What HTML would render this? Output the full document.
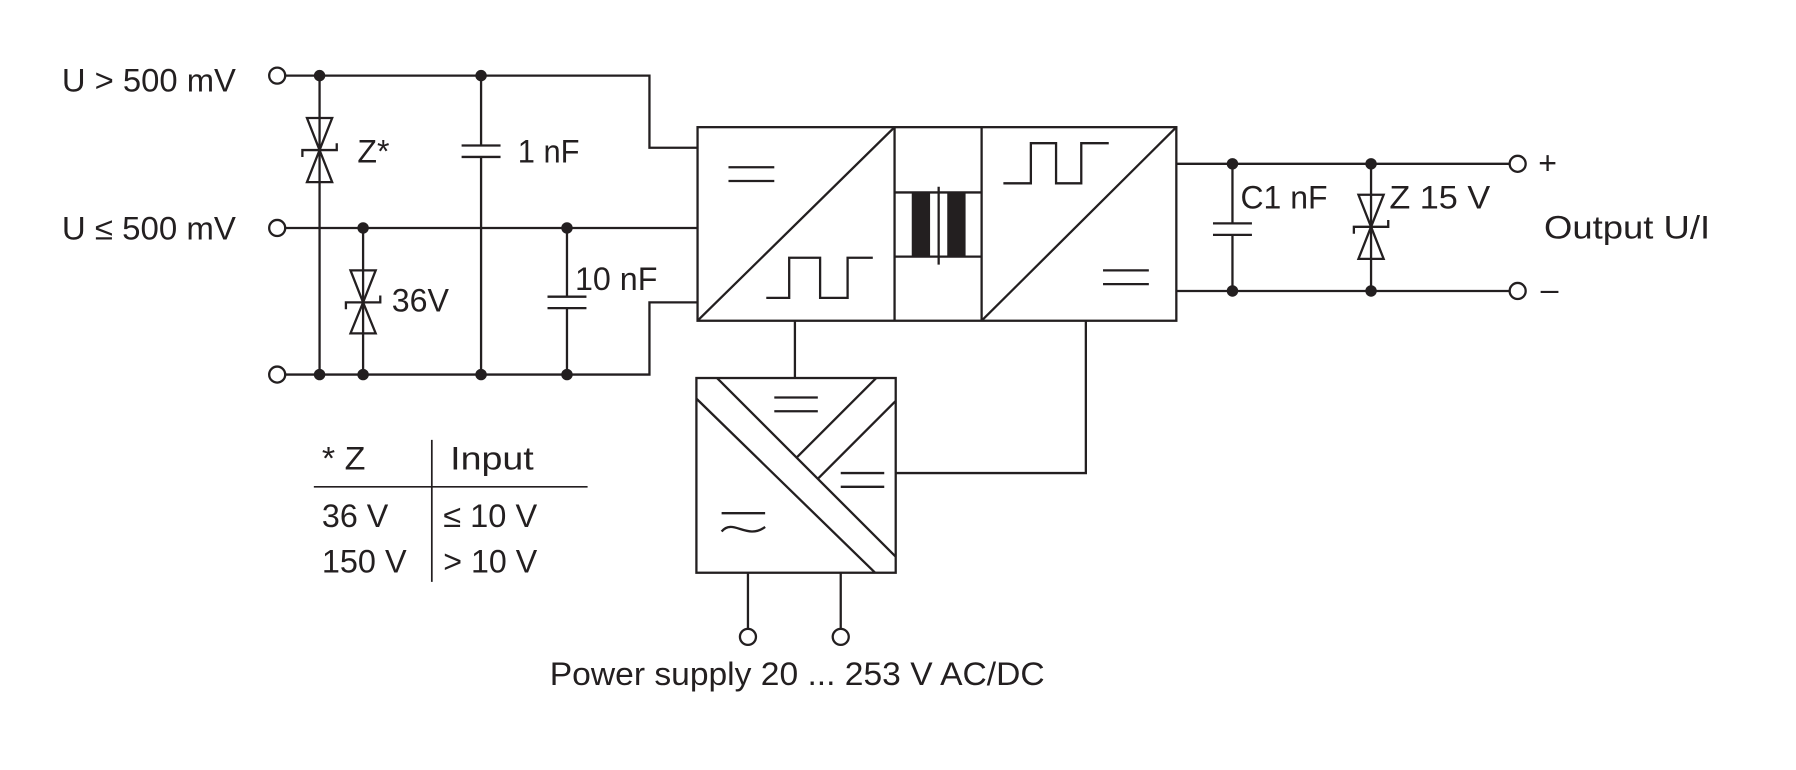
<!DOCTYPE html>
<html><head><meta charset="utf-8"><style>
html,body{margin:0;padding:0;background:#fff;}
svg{display:block;}
text{font-family:"Liberation Sans",sans-serif;fill:#231f20;}
</style></head><body>
<svg width="1796" height="770" viewBox="0 0 1568 672.2" xmlns="http://www.w3.org/2000/svg">
<g stroke="#231f20" stroke-width="2" fill="none">
<polyline points="249,66 567,66 567,129 609,129"/>
<line x1="249" y1="199" x2="609" y2="199"/>
<polyline points="249,327 567,327 567,264 609,264"/>
<circle cx="242" cy="66" r="7"/><circle cx="242" cy="199" r="7"/><circle cx="242" cy="327" r="7"/>
<line x1="279" y1="66" x2="279" y2="327"/>
<polygon points="268,103 290,103 279,131"/>
<polygon points="268,159 290,159 279,131"/>
<polyline points="264,137 264,131 294,131 294,125"/>
<line x1="317" y1="199" x2="317" y2="327"/>
<polygon points="306,236 328,236 317,264"/>
<polygon points="306,291 328,291 317,264"/>
<polyline points="302,270 302,264 332,264 332,258"/>
<line x1="420" y1="66" x2="420" y2="127"/><line x1="420" y1="137" x2="420" y2="327"/>
<line x1="403" y1="127" x2="437" y2="127"/><line x1="403" y1="137" x2="437" y2="137"/>
<line x1="495" y1="199" x2="495" y2="259"/><line x1="495" y1="269" x2="495" y2="327"/>
<line x1="478" y1="259" x2="512" y2="259"/><line x1="478" y1="269" x2="512" y2="269"/>
<rect x="609" y="111" width="418" height="169"/>
<line x1="781" y1="111" x2="781" y2="280"/><line x1="857" y1="111" x2="857" y2="280"/>
<line x1="609" y1="280" x2="781" y2="111"/>
<line x1="857" y1="280" x2="1027" y2="111"/>
<line x1="636" y1="146" x2="676" y2="146"/><line x1="636" y1="158" x2="676" y2="158"/>
<polyline points="669,260 689,260 689,225 716,225 716,260 740,260 740,225 762,225"/>
<polyline points="876,160 900,160 900,125 922,125 922,160 944,160 944,125 968,125"/>
<line x1="963" y1="236" x2="1003" y2="236"/><line x1="963" y1="248" x2="1003" y2="248"/>
<line x1="781" y1="168" x2="857" y2="168"/><line x1="781" y1="224" x2="857" y2="224"/>
<line x1="819.5" y1="163" x2="819.5" y2="231"/>
<line x1="1027" y1="143" x2="1318" y2="143"/><line x1="1027" y1="254" x2="1318" y2="254"/>
<circle cx="1325" cy="143" r="7"/><circle cx="1325" cy="254" r="7"/>
<line x1="1076" y1="143" x2="1076" y2="195"/><line x1="1076" y1="205" x2="1076" y2="254"/>
<line x1="1059" y1="195" x2="1093" y2="195"/><line x1="1059" y1="205" x2="1093" y2="205"/>
<line x1="1197" y1="143" x2="1197" y2="254"/>
<polygon points="1186,170 1208,170 1197,198"/>
<polygon points="1186,226 1208,226 1197,198"/>
<polyline points="1182,204 1182,198 1212,198 1212,192"/>
<line x1="694" y1="280" x2="694" y2="330"/>
<rect x="608" y="330" width="174" height="170"/>
<line x1="626" y1="330" x2="782" y2="486"/>
<line x1="608" y1="348" x2="764" y2="500"/>
<line x1="765" y1="330" x2="695.5" y2="399.5"/>
<line x1="782" y1="350" x2="714" y2="418"/>
<line x1="676" y1="347" x2="714" y2="347"/><line x1="676" y1="359" x2="714" y2="359"/>
<line x1="734" y1="413" x2="772" y2="413"/><line x1="734" y1="425" x2="772" y2="425"/>
<line x1="630" y1="448" x2="668" y2="448"/>
<path d="M630,464 C640,452 652,472 668,460"/>
<polyline points="782,413 948,413 948,280"/>
<line x1="653" y1="500" x2="653" y2="549"/><line x1="734" y1="500" x2="734" y2="549"/>
<circle cx="653" cy="556" r="7"/><circle cx="734" cy="556" r="7"/>
<line x1="377" y1="384" x2="377" y2="508" stroke-width="1.5"/>
<line x1="274" y1="425" x2="513" y2="425" stroke-width="1.5"/>
</g>
<g fill="#231f20">
<circle cx="279" cy="66" r="5"/><circle cx="420" cy="66" r="5"/>
<circle cx="317" cy="199" r="5"/><circle cx="495" cy="199" r="5"/>
<circle cx="279" cy="327" r="5"/><circle cx="317" cy="327" r="5"/><circle cx="420" cy="327" r="5"/><circle cx="495" cy="327" r="5"/>
<circle cx="1076" cy="143" r="5"/><circle cx="1076" cy="254" r="5"/><circle cx="1197" cy="143" r="5"/><circle cx="1197" cy="254" r="5"/>
<rect x="796" y="168" width="16" height="56"/><rect x="827" y="168" width="16" height="56"/>
</g>
<g font-size="28">
<text x="54" y="80" textLength="152" lengthAdjust="spacingAndGlyphs">U &gt; 500 mV</text>
<text x="54" y="209" textLength="152" lengthAdjust="spacingAndGlyphs">U ≤ 500 mV</text>
<text x="312" y="142">Z*</text>
<text x="452" y="142" textLength="54" lengthAdjust="spacingAndGlyphs">1 nF</text>
<text x="342" y="272" textLength="50" lengthAdjust="spacingAndGlyphs">36V</text>
<text x="502" y="253" textLength="72" lengthAdjust="spacingAndGlyphs">10 nF</text>
<text x="1083" y="182" textLength="76" lengthAdjust="spacingAndGlyphs">C1 nF</text>
<text x="1213" y="182" textLength="88" lengthAdjust="spacingAndGlyphs">Z 15 V</text>
<text x="1343" y="152">+</text>
<text x="1345" y="262">–</text>
<text x="1348" y="208" textLength="145" lengthAdjust="spacingAndGlyphs">Output U/I</text>
<text x="281" y="410" textLength="38" lengthAdjust="spacingAndGlyphs">* Z</text>
<text x="393" y="410" textLength="73" lengthAdjust="spacingAndGlyphs">Input</text>
<text x="281" y="460" textLength="58" lengthAdjust="spacingAndGlyphs">36 V</text>
<text x="387" y="460" textLength="82" lengthAdjust="spacingAndGlyphs">≤ 10 V</text>
<text x="281" y="500" textLength="74" lengthAdjust="spacingAndGlyphs">150 V</text>
<text x="387" y="500" textLength="82" lengthAdjust="spacingAndGlyphs">&gt; 10 V</text>
<text x="480" y="598" textLength="432" lengthAdjust="spacingAndGlyphs">Power supply 20 ... 253 V AC/DC</text>
</g>
</svg>
</body></html>
